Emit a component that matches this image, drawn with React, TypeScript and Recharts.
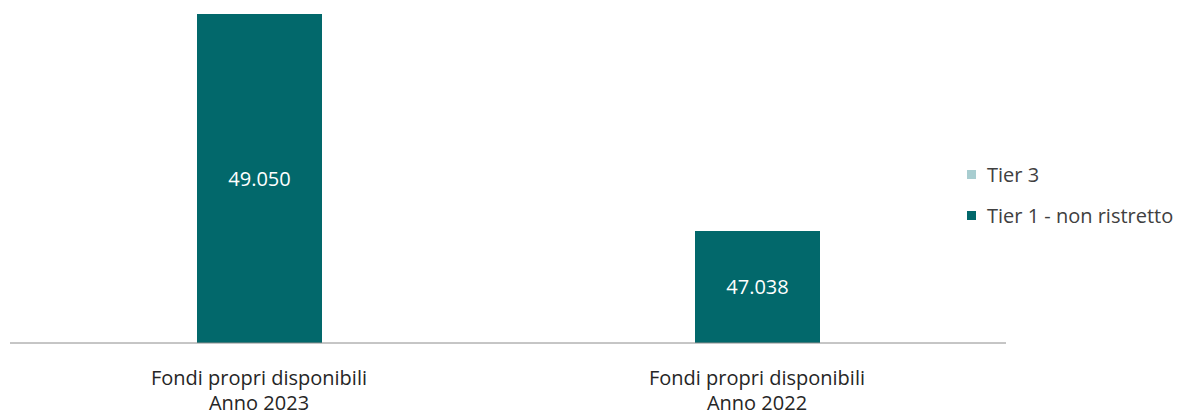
import React from 'react';
import { Bar, BarChart, LabelList, XAxis, YAxis } from 'recharts';

const categories = ['Fondi propri disponibili\nAnno 2023', 'Fondi propri disponibili\nAnno 2022'];
const tier1Values = [49050, 47038];
const tier3Values = [0, 0];
const seriesNames = ['Tier 3', 'Tier 1 - non ristretto'];
const seriesColors = ['#A8CDD0', '#02686B'];

const data = categories.map((name, i) => ({
  name,
  tier1: tier1Values[i],
  tier3: tier3Values[i]
}));

const FONT = '"Open Sans", sans-serif';

const formatValue = (v: any) => (v ? Number(v).toLocaleString('it-IT') : '');

const CategoryTick: React.FC<any> = ({ x, y, payload }) => {
  const lines = String(payload.value).split('\n');
  return (
    <g>
      {lines.map((line: string, i: number) => (
        <text
          key={i}
          x={x}
          y={y + 34 + i * 25}
          textAnchor="middle"
          dominantBaseline="central"
          fill="#262626"
          fontSize={20}
          fontFamily={FONT}
        >
          {line}
        </text>
      ))}
    </g>
  );
};

// legend sits to the right of the plot, outside the chart box
const ChartLegend: React.FC = () => (
  <div
    style={{
      position: 'absolute',
      left: 967,
      top: 154,
      fontFamily: FONT,
      fontSize: 20,
      color: '#404040'
    }}
  >
    {seriesNames.map((name, i) => (
      <div
        key={name}
        style={{ display: 'flex', alignItems: 'center', height: 41, whiteSpace: 'nowrap' }}
      >
        <span
          style={{
            width: 9,
            height: 9,
            background: seriesColors[i],
            marginRight: 11,
            display: 'inline-block'
          }}
        />
        <span>{name}</span>
      </div>
    ))}
  </div>
);

const App: React.FC = () => {
  return (
    <div style={{ position: 'absolute', left: 0, top: 0, width: 1188, height: 413 }}>
      <BarChart
        width={1188}
        height={413}
        data={data}
        margin={{ top: 14, right: 182, left: 10, bottom: 40 }}
      >
        <XAxis
          dataKey="name"
          height={30}
          tickLine={false}
          tickSize={0}
          tickMargin={0}
          interval={0}
          stroke="#8C8C8C"
          tick={<CategoryTick />}
        />
        <YAxis hide domain={[46000, 49050]} allowDataOverflow />
        <Bar
          dataKey="tier1"
          fill={seriesColors[1]}
          barSize={125}
          isAnimationActive={false}
        >
          <LabelList
            dataKey="tier1"
            position="center"
            formatter={formatValue}
            fill="#FFFFFF"
            fontSize={20}
            fontFamily={FONT}
          />
        </Bar>
      </BarChart>
      <ChartLegend />
    </div>
  );
};

export default App;
